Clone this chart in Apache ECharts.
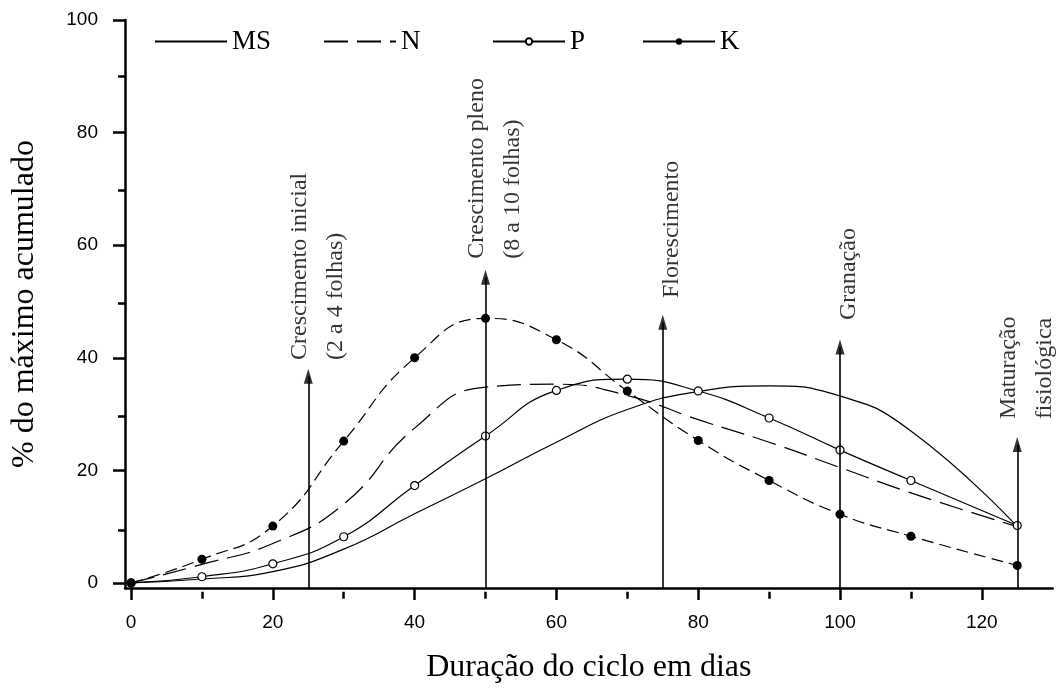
<!DOCTYPE html>
<html><head><meta charset="utf-8">
<script src="https://cdn.jsdelivr.net/npm/echarts@6/dist/echarts.min.js"></script>
<style>html,body{margin:0;padding:0;background:#fff}#c{width:1057px;height:689px}</style>
</head><body><div id="c"></div>
<script>
// ---- data ----
const days = [0, 10, 20, 30, 40, 50, 60, 70, 80, 90, 100, 110, 125];
const msValues = [0, 0.7, 2, 6, 12.3, 18.5, 25, 30.8, 34, 35, 33.2, 27, 10];
const nValues  = [0, 3.3, 7, 14, 27.5, 34.8, 35.3, 33.3, 29, 25, 20.5, 16, 10];
const pValues  = [0, 1.1, 3.4, 8.2, 17.3, 26.1, 34.2, 36.2, 34.1, 29.3, 23.6, 18.2, 10.2];
const kValues  = [0, 4.2, 10.1, 25.2, 40, 47, 43.2, 34.1, 25.3, 18.2, 12.2, 8.3, 3.1];

const stageDays = [25, 50, 75, 100, 125];
const stageArrowTops = [36.7, 54.3, 46.3, 41.9, 24.6];
const stageLabelBase = [39.6, 57.6, 50.6, 46.7, 29.1];
const stageNames = [
  'Crescimento inicial\n(2 a 4 folhas)',
  'Crescimento pleno\n(8 a 10 folhas)',
  'Florescimento',
  'Granação',
  'Maturação\nfisiológica'
];

const seriesNames = ['MS', 'N', 'P', 'K'];
const xMajorTicks = [0, 20, 40, 60, 80, 100, 120];
const xMinorTicks = [10, 30, 50, 70, 90, 110];
const yMajorTicks = [0, 20, 40, 60, 80, 100];
const yMinorTicks = [10, 30, 50, 70, 90];
const xTitle = 'Duração do ciclo em dias';
const yTitle = '% do máximo acumulado';

// ---- layout / style ----
const X_MIN = -0.85, X_MAX = 130, Y_MIN = -0.9, Y_MAX = 100;
const SERIF = 'Liberation Serif';
const SANS = 'Liberation Sans';
const legendLeft = [149, 318, 487, 637];

function pairs(vals) { return days.map((d, i) => [d, vals[i]]); }

const gridBox = { left: 125, right: 4.3, top: 20, bottom: 97.2 };
const lineBase = { type: 'line', smooth: true, xAxisIndex: 0, yAxisIndex: 0, z: 3 };
const black = '#000';

function legendItem(n) {
  if (n === 'K') return { name: n, lineStyle: { type: 'solid' } };
  if (n === 'MS' || n === 'N') return { name: n, itemStyle: { opacity: 0 } };
  return n;
}

const option = {
  animation: false,
  backgroundColor: '#fff',
  grid: [Object.assign({}, gridBox), Object.assign({}, gridBox)],
  legend: seriesNames.map((n, i) => ({
    data: [legendItem(n)],
    left: legendLeft[i], top: 23,
    itemWidth: 72, itemHeight: 8,
    selectedMode: false,
    textStyle: { fontFamily: SERIF, fontSize: 27, color: black }
  })),
  xAxis: [
    {
      type: 'value', gridIndex: 0, min: X_MIN, max: X_MAX,
      name: xTitle, nameLocation: 'middle', nameGap: 64,
      nameTextStyle: { fontFamily: SERIF, fontSize: 32, color: black },
      axisLine: { show: true, onZero: false, lineStyle: { color: black, width: 2.5 } },
      axisTick: { show: true, customValues: xMajorTicks, length: 12, lineStyle: { color: black, width: 2.5 } },
      axisLabel: { show: true, customValues: xMajorTicks, margin: 25, fontFamily: SANS, fontSize: 19, color: black },
      splitLine: { show: false }
    },
    {
      type: 'value', gridIndex: 1, min: X_MIN, max: X_MAX,
      axisLine: { show: false, onZero: false },
      axisTick: { show: true, customValues: xMinorTicks, length: 7, lineStyle: { color: black, width: 2.5 } },
      axisLabel: { show: false },
      splitLine: { show: false }
    }
  ],
  yAxis: [
    {
      type: 'value', gridIndex: 0, min: Y_MIN, max: Y_MAX,
      name: yTitle, nameLocation: 'middle', nameGap: 84, nameRotate: 90,
      nameTextStyle: { fontFamily: SERIF, fontSize: 32, color: black },
      axisLine: { show: true, onZero: false, lineStyle: { color: black, width: 2.5 } },
      axisTick: { show: true, customValues: yMajorTicks, length: 12, lineStyle: { color: black, width: 2.5 } },
      axisLabel: { show: true, customValues: yMajorTicks, margin: 27, fontFamily: SANS, fontSize: 19, color: black },
      splitLine: { show: false }
    },
    {
      type: 'value', gridIndex: 1, min: Y_MIN, max: Y_MAX,
      axisLine: { show: false, onZero: false },
      axisTick: { show: true, customValues: yMinorTicks, length: 7, lineStyle: { color: black, width: 2.5 } },
      axisLabel: { show: false },
      splitLine: { show: false }
    }
  ],
  series: [
    Object.assign({}, lineBase, {
      name: 'MS', data: pairs(msValues), symbol: 'none',
      lineStyle: { color: black, width: 1.2, type: 'solid' }, itemStyle: { color: black }
    }),
    Object.assign({}, lineBase, {
      name: 'N', data: pairs(nValues), symbol: 'none',
      lineStyle: { color: black, width: 1.2, type: [24, 9] }, itemStyle: { color: black }
    }),
    Object.assign({}, lineBase, {
      name: 'P', data: pairs(pValues), symbol: 'circle', symbolSize: 8,
      itemStyle: { color: '#fff', borderColor: black, borderWidth: 1.2 },
      lineStyle: { color: black, width: 1.2, type: 'solid' }
    }),
    Object.assign({}, lineBase, {
      name: 'K', data: pairs(kValues), symbol: 'circle', symbolSize: 9,
      itemStyle: { color: black },
      lineStyle: { color: black, width: 1.2, type: [12, 6] }
    }),
    {
      type: 'scatter', name: 'arrowheads', xAxisIndex: 0, yAxisIndex: 0, z: 5,
      data: stageDays.map((d, i) => [d, stageArrowTops[i]]),
      symbol: 'triangle', symbolSize: [9, 15], itemStyle: { color: black },
      silent: true,
      markLine: {
        silent: true, symbol: ['none', 'none'],
        label: { show: false },
        lineStyle: { color: black, width: 1.6, type: 'solid' },
        data: stageDays.map((d, i) => [{ coord: [d, Y_MIN] }, { coord: [d, stageArrowTops[i]] }])
      }
    },
    {
      type: 'scatter', name: 'stages', xAxisIndex: 0, yAxisIndex: 0, z: 6,
      data: stageDays.map((d, i) => [d, stageLabelBase[i], stageNames[i]]),
      symbolSize: 1, itemStyle: { color: 'rgba(0,0,0,0)' }, silent: true,
      label: {
        show: true, position: 'inside', rotate: 90, align: 'left', verticalAlign: 'middle',
        offset: [0, 9],
        formatter: p => p.data[2],
        fontFamily: SERIF, fontSize: 24, lineHeight: 36, color: black
      }
    }
  ]
};

const chart = echarts.init(document.getElementById('c'));
chart.setOption(option);
</script>
</body></html>
